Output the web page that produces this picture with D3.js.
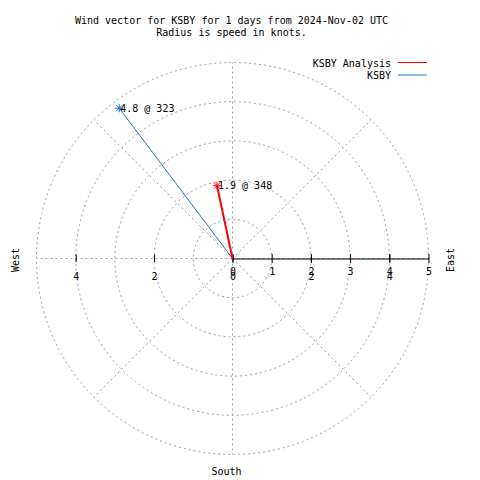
<!DOCTYPE html>
<html>
<head>
<meta charset="utf-8">
<script src="https://cdn.jsdelivr.net/npm/d3@7"></script>
<style>
  html, body { margin: 0; padding: 0; background: #fff; }
  svg { display: block; }
  text { font-family: "DejaVu Sans Mono", "Liberation Mono", monospace; font-size: 10px; fill: #000; }
</style>
</head>
<body>
<svg id="chart" width="480" height="480"></svg>
<script>
// ---- data ----
const titleLines = ["Wind vector for KSBY for 1 days from 2024-Nov-02 UTC", "Radius is speed in knots."];
const seriesNames = ["KSBY Analysis", "KSBY"];
const speeds = [1.9, 4.8];          // knots
const directions = [348, 323];      // degrees, from north clockwise
const seriesColors = ["#ff0000", "#1874d8"];
const seriesWidths = [2, 1];
const radialTicks = [0, 1, 2, 3, 4, 5];
const xTicks = [-4, -2, 0, 2, 4];
const gridRadii = [1, 2, 3, 4, 5];
const gridAngles = [0, 45, 90, 135, 180, 225, 270, 315];
const compass = [
  { name: "West", angle: 270 },
  { name: "East", angle: 90 },
  { name: "South", angle: 180 }
];

// ---- layout ----
const svg = d3.select("#chart");
const cx = 232.5, cy = 258.5, R = 196;
const r = d3.scaleLinear().domain([0, 5]).range([0, R]);
const x = d3.scaleLinear().domain([-5, 5]).range([cx - R, cx + R]);
const gridColor = "#a0a0a0";

const pol = (spd, deg) => {
  const a = deg * Math.PI / 180;
  return [cx + r(spd) * Math.sin(a), cy - r(spd) * Math.cos(a)];
};

// title
svg.selectAll("text.title").data(titleLines).join("text")
  .attr("class", "title")
  .attr("x", 231.5)
  .attr("y", (d, i) => 23.5 + i * 12.5)
  .attr("text-anchor", "middle")
  .text(d => d);

// grid circles
svg.append("g").selectAll("circle").data(gridRadii).join("circle")
  .attr("cx", cx).attr("cy", cy).attr("r", d => r(d))
  .attr("fill", "none").attr("stroke", gridColor)
  .attr("stroke-width", 1).attr("stroke-dasharray", "2,3");

// grid spokes
svg.append("g").selectAll("line").data(gridAngles).join("line")
  .attr("x1", cx).attr("y1", cy)
  .attr("x2", d => pol(5, d)[0]).attr("y2", d => pol(5, d)[1])
  .attr("stroke", gridColor).attr("stroke-width", 1).attr("stroke-dasharray", "2,3");

// radial axis (solid black, to the east)
const rAxis = d3.axisBottom(d3.scaleLinear().domain([0, 5]).range([cx, cx + R]))
  .tickValues(radialTicks).tickSize(0).tickFormat(d3.format("d"));
const rg = svg.append("g").attr("transform", `translate(0,${cy})`).call(rAxis);
rg.select(".domain").attr("stroke", "#000").attr("stroke-width", 1.2);
rg.selectAll(".tick line").attr("y1", -4.5).attr("y2", 4.5).attr("stroke", "#000").attr("stroke-width", 1);
rg.selectAll(".tick text").attr("y", 0).attr("dy", "16.5px")
  .style("font-family", "DejaVu Sans Mono, monospace").style("font-size", "10px").attr("fill", "#000");

// x axis ticks along the west-east line
const xAxis = d3.axisBottom(x).tickValues(xTicks).tickSize(0).tickFormat(d => Math.abs(d));
const xg = svg.append("g").attr("transform", `translate(0,${cy})`).call(xAxis);
xg.select(".domain").remove();
xg.selectAll(".tick line").attr("y1", -4).attr("y2", 3.5).attr("stroke", "#000").attr("stroke-width", 1);
xg.selectAll(".tick text").attr("y", 0).attr("dy", "21px")
  .style("font-family", "DejaVu Sans Mono, monospace").style("font-size", "10px").attr("fill", "#000");

// compass labels
compass.forEach(c => {
  if (c.name === "South") {
    svg.append("text").attr("x", 226.5).attr("y", 474.5).attr("text-anchor", "middle").text(c.name);
  } else {
    const px = c.name === "West" ? 15 : 450.5;
    svg.append("text")
      .attr("transform", `translate(${px + 3.5},260) rotate(-90)`)
      .attr("text-anchor", "middle").text(c.name);
  }
});

// vectors
const data = seriesNames.map((n, i) => ({ name: n, spd: speeds[i], dir: directions[i], color: seriesColors[i], w: seriesWidths[i] }));
const vg = svg.append("g");
// draw KSBY first then analysis on top
[...data].reverse().forEach(d => {
  const [px, py] = pol(d.spd, d.dir);
  vg.append("line").attr("x1", cx).attr("y1", cy).attr("x2", px).attr("y2", py)
    .attr("stroke", d.color).attr("stroke-width", d.w);
  const s = 4;
  const star = `M${px - s},${py}L${px + s},${py}M${px},${py - s}L${px},${py + s}` +
    `M${px - 3},${py - 3}L${px + 3},${py + 3}M${px - 3},${py + 3}L${px + 3},${py - 3}`;
  vg.append("path").attr("d", star).attr("stroke", d.color).attr("stroke-width", 1).attr("fill", "none");
  vg.append("text").attr("x", px + 1).attr("y", py + 3.5).text(`${d.spd} @ ${d.dir}`);
});

// legend
const lg = svg.append("g");
data.forEach((d, i) => {
  const y = 62.5 + i * 12.5;
  lg.append("text").attr("x", 391).attr("y", y + 4).attr("text-anchor", "end").text(d.name);
  lg.append("line").attr("x1", 398).attr("x2", 427).attr("y1", y).attr("y2", y)
    .attr("stroke", d.color).attr("stroke-width", 1);
});
</script>
</body>
</html>
